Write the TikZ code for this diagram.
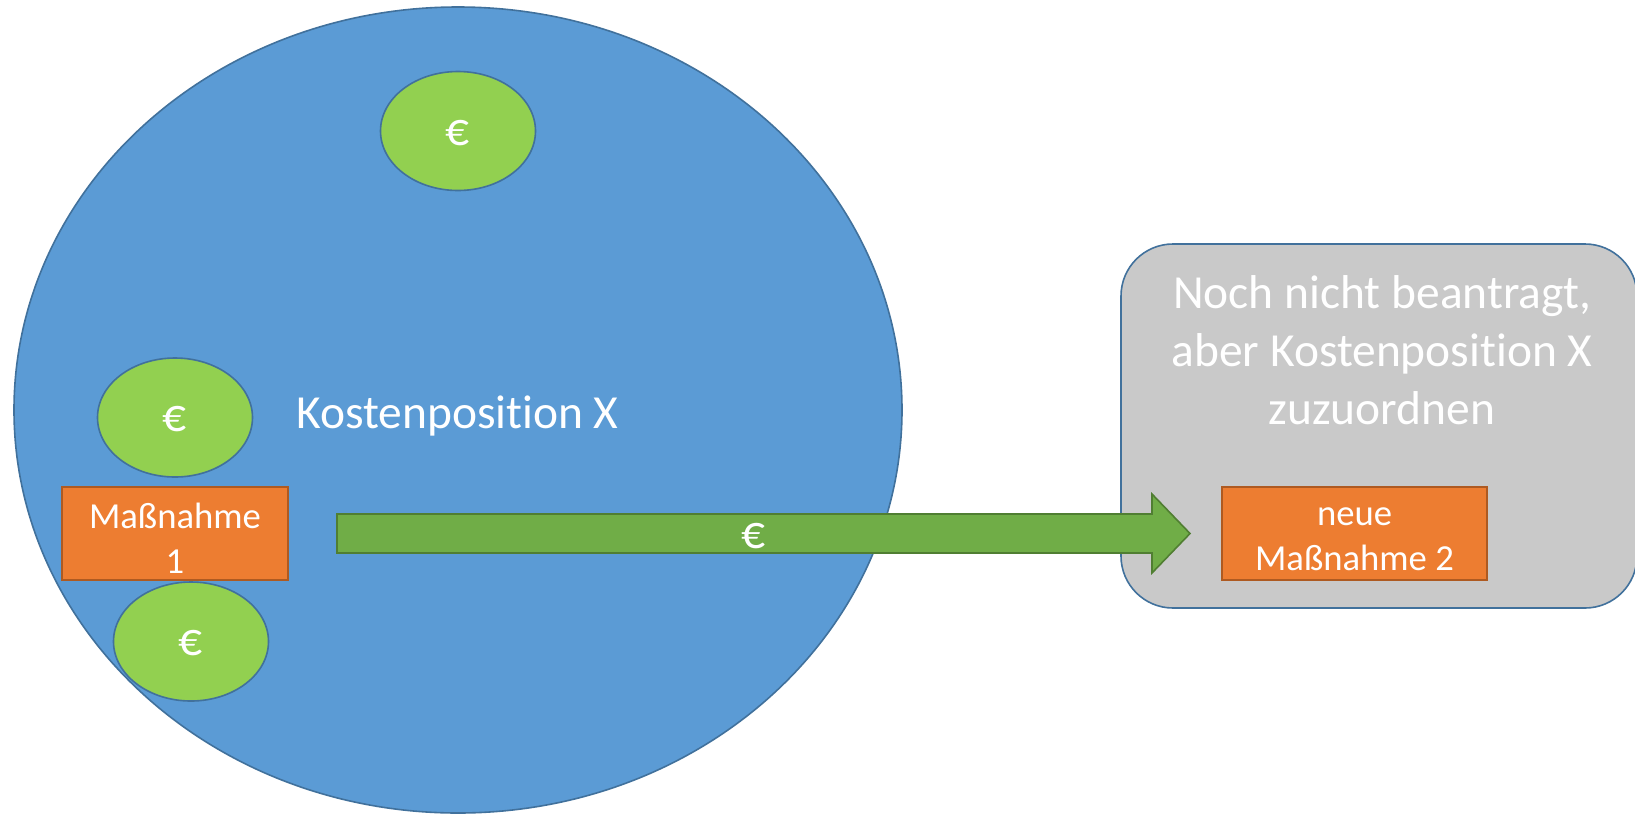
\documentclass[tikz,border=0pt]{standalone}
\usepackage{fontspec}
\setmainfont{Carlito}[Ligatures={NoCommon},RawFeature={-liga;-clig}]
\usetikzlibrary{shapes.geometric}
\definecolor{blueF}{HTML}{5B9BD5}
\definecolor{blueL}{HTML}{41719C}
\definecolor{greenF}{HTML}{92D050}
\definecolor{orangeF}{HTML}{ED7D31}
\definecolor{orangeL}{HTML}{AE5A21}
\definecolor{arrowF}{HTML}{70AD47}
\definecolor{arrowL}{HTML}{507E32}
\definecolor{grayF}{HTML}{C9C9C9}
\newcommand{\nti}{t\kern0pt i}
\tikzset{
  bigtxt/.style={text=white,font=\fontsize{35.6}{43.4}\selectfont},
  smalltxt/.style={text=white,font=\fontsize{27.5}{33.5}\selectfont,align=center,inner sep=0pt},
  coin/.style={ellipse,draw=blueL,line width=1.2pt,fill=greenF,minimum width=116.25pt,minimum height=89.25pt,inner sep=0pt,label={[bigtxt,inner sep=0pt,yshift=-1.5pt]center:€}},
  measure/.style={rectangle,draw=orangeL,line width=1.2pt,fill=orangeF,minimum height=69.75pt,inner sep=0pt},
  flow/.style={draw=arrowL,line width=1.2pt,fill=arrowF,line join=miter}
}
\begin{document}
\begin{tikzpicture}[x=0.75pt,y=-0.75pt]
\useasboundingbox (0,0) rectangle (1635,815);
% big cost position ellipse
\node[ellipse,draw=blueL,line width=1.2pt,fill=blueF,minimum width=666pt,minimum height=604.5pt,inner sep=0pt] (big) at (458,410) {};
\node[coin] (c1) at (458,131) {};
\node[coin] (c2) at (175,417.5) {};
\node[coin] (c3) at (191,641.5) {};
\node[measure,minimum width=169.5pt] (m1) at (175,533.5) {};
\node[smalltxt] (m1t) at ([yshift=-3.5pt]m1.center) {Maßnahme\\1};
\node[bigtxt,anchor=west,inner sep=0pt] (kp) at (296,416) {Kostenposi\nti on X};
% gray box
\node[rectangle,rounded corners=39pt,draw=blueL,line width=1.2pt,fill=grayF,minimum width=387pt,minimum height=273pt,inner sep=0pt] (gbox) at (1379,426) {};
\node[bigtxt,align=center,inner sep=0pt] (gtxt) at (1382,350) {Noch nicht beantragt,\\aber Kostenposi\nti on X\\zuzuordnen};
\node[measure,minimum width=198.75pt] (m2) at (1354.5,533.5) {};
\node[smalltxt] (m2t) at ([yshift=-4.5pt]m2.center) {neue\\Maßnahme 2};
% arrow
\coordinate (as) at (337,533.5);
\coordinate (ae) at (1190,533.5);
\draw[flow] ([yshift=14.6pt]as) -- ([xshift=-28.5pt,yshift=14.6pt]ae) -- ([xshift=-28.5pt,yshift=29.6pt]ae) -- (ae) -- ([xshift=-28.5pt,yshift=-29.6pt]ae) -- ([xshift=-28.5pt,yshift=-14.6pt]ae) -- ([yshift=-14.6pt]as) -- cycle;
\node[bigtxt,inner sep=0pt] (ae_lbl) at (754,536) {€};
\end{tikzpicture}
\end{document}
